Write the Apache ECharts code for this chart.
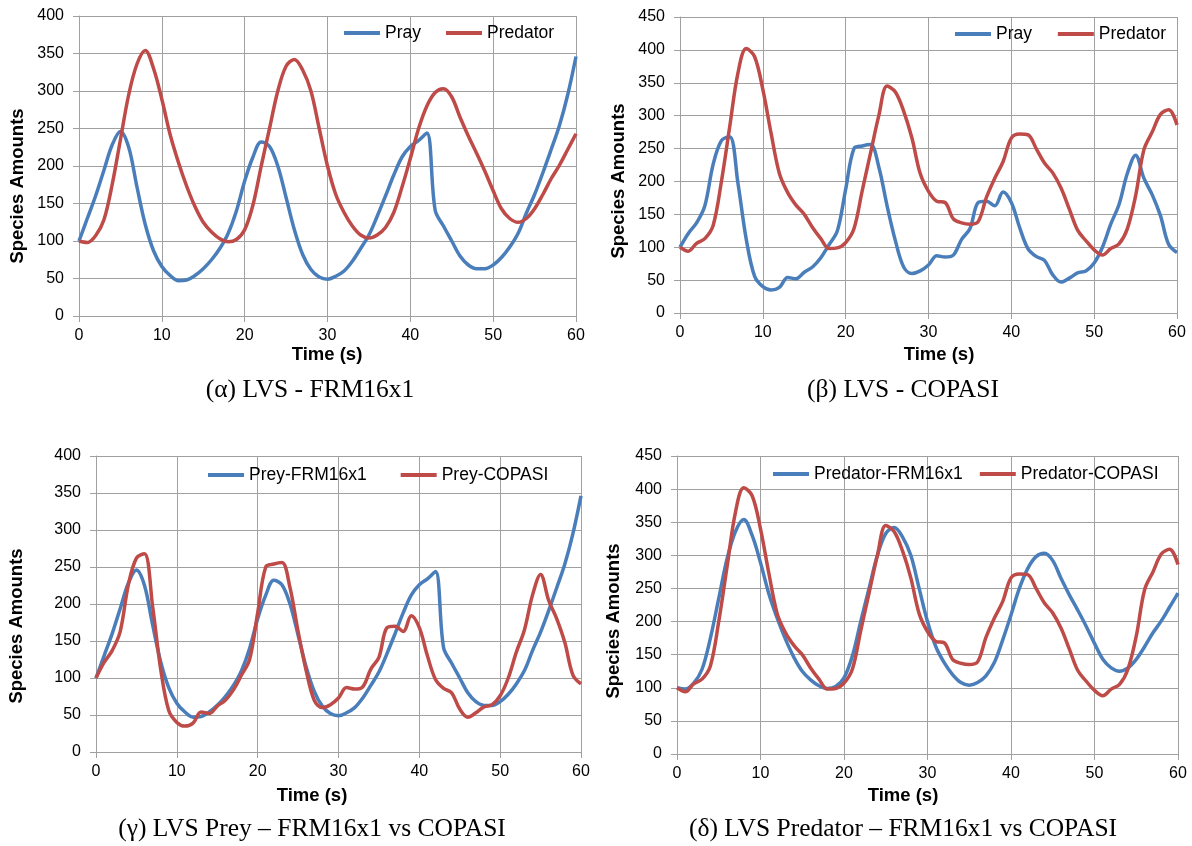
<!DOCTYPE html>
<html>
<head>
<meta charset="utf-8">
<title>Lotka-Volterra: FRM16x1 vs COPASI</title>
<script src="https://cdn.jsdelivr.net/npm/echarts@6/dist/echarts.min.js"></script>
<style>
  html, body { margin: 0; padding: 0; background: #ffffff; }
  #chart { width: 1192px; height: 846px; }
</style>
</head>
<body>
<div id="chart"></div>
<script>
// Simulation time, seconds
const time = [
  0, 1, 2, 3, 4, 5, 6, 7, 8, 9, 10, 11, 12, 13, 14, 15, 16, 17, 18, 19, 20,
  21, 22, 23, 24, 25, 26, 27, 28, 29, 30, 31, 32, 33, 34, 35, 36, 37, 38, 39, 40,
  41, 42, 43, 44, 45, 46, 47, 48, 49, 50, 51, 52, 53, 54, 55, 56, 57, 58, 59, 60
];

// Prey population, FRM16x1 run
const preyFRM = [
  100, 130, 160, 194, 228, 246, 225, 172, 122, 87, 66, 54, 47, 48, 54, 63, 75, 90, 110, 140, 180,
  212, 232, 226, 200, 158, 115, 82, 62, 52, 49, 53, 60, 73, 90, 108, 133, 160, 188, 212, 226,
  234, 244, 141, 120, 100, 80, 68, 63, 63, 68, 78, 92, 110, 137, 162, 191, 222, 254, 295, 346
];

// Predator population, FRM16x1 run
const predFRM = [
  100, 98, 107, 128, 175, 235, 295, 336, 354, 330, 289, 242, 205, 173, 146, 125, 112, 103, 99, 102, 115,
  148, 200, 250, 300, 333, 342, 328, 300, 250, 200, 162, 138, 120, 108, 104, 108, 118, 138, 172, 210,
  250, 280, 298, 303, 292, 265, 240, 217, 193, 167, 143, 130, 125, 130, 143, 162, 183, 201, 222, 243
];

// Prey population, COPASI run
const preyCOPASI = [
  100, 121, 137, 163, 226, 262, 268, 197, 112, 56, 40, 35, 39, 54, 52, 62, 70, 84, 104, 125, 188,
  250, 254, 256, 222, 163, 110, 70, 60, 64, 73, 87, 85, 88, 112, 128, 168, 170, 163, 184, 168,
  130, 98, 86, 80, 58, 47, 53, 61, 64, 76, 100, 135, 165, 212, 240, 205, 180, 148, 104, 92
];

// Predator population, COPASI run
const predCOPASI = [
  100, 94, 106, 113, 133, 200, 283, 365, 402, 390, 340, 273, 212, 183, 164, 150, 130, 113, 98, 99, 107,
  128, 186, 243, 300, 345, 336, 307, 266, 212, 185, 170, 168, 143, 137, 135, 139, 176, 205, 230, 266,
  272, 271, 250, 228, 213, 190, 158, 126, 110, 96, 88, 98, 105, 128, 178, 248, 275, 302, 309, 286
];

// Panel axis ranges
const yMaxTop = [400, 450];
const yMaxBottom = [400, 450];

const BLUE = '#4a7ebb';
const RED = '#be4b48';
const GRID_GREY = '#a0a0a0';
const SANS = 'Liberation Sans, Arial, sans-serif';
const SERIF = 'Liberation Serif, Times New Roman, serif';

function pairs(values) {
  return time.map((t, i) => [t, values[i]]);
}

// plot-area rectangles of the four panels
const panels = [
  { left: 79,  top: 16,  width: 497, height: 300, yMax: yMaxTop[0] },
  { left: 680, top: 17,  width: 497, height: 296, yMax: yMaxTop[1] },
  { left: 96,  top: 456, width: 485, height: 296, yMax: yMaxBottom[0] },
  { left: 677, top: 456, width: 501, height: 298, yMax: yMaxBottom[1] }
];

const grids = panels.map(p => ({ left: p.left, top: p.top, width: p.width, height: p.height }));

const xAxes = panels.map((p, i) => ({
  type: 'value', gridIndex: i, min: 0, max: 60, interval: 10,
  axisLine: { show: true, lineStyle: { color: GRID_GREY, width: 1 } },
  axisTick: { show: true, length: 6, inside: false, lineStyle: { color: GRID_GREY } },
  axisLabel: { color: '#000', fontFamily: SANS, fontSize: 16, margin: 12 },
  splitLine: { show: true, lineStyle: { color: GRID_GREY, width: 1 } }
}));

const yAxes = panels.map((p, i) => ({
  type: 'value', gridIndex: i, min: 0, max: p.yMax, interval: 50,
  axisLine: { show: true, lineStyle: { color: GRID_GREY, width: 1 } },
  axisTick: { show: true, length: 6, inside: false, lineStyle: { color: GRID_GREY } },
  axisLabel: { color: '#000', fontFamily: SANS, fontSize: 16, margin: 15 },
  splitLine: { show: true, lineStyle: { color: GRID_GREY, width: 1 } }
}));

function line(name, values, color, idx) {
  return {
    name: name, type: 'line', xAxisIndex: idx, yAxisIndex: idx,
    data: pairs(values), smooth: 0.35, symbol: 'none',
    lineStyle: { color: color, width: 3.5 }, itemStyle: { color: color },
    z: color === RED ? 3 : 2, animation: false
  };
}

const series = [
  line('Pray', preyFRM, BLUE, 0),
  line('Predator', predFRM, RED, 0),
  line('Pray ', preyCOPASI, BLUE, 1),
  line('Predator ', predCOPASI, RED, 1),
  line('Prey-FRM16x1', preyFRM, BLUE, 2),
  line('Prey-COPASI', preyCOPASI, RED, 2),
  line('Predator-FRM16x1', predFRM, BLUE, 3),
  line('Predator-COPASI', predCOPASI, RED, 3)
];

function legend(names, left, centerY, gap) {
  return {
    data: names.map(n => ({ name: n, icon: 'rect' })),
    left: left, top: centerY - 11, padding: 0,
    itemWidth: 36, itemHeight: 4, itemGap: gap,
    selectedMode: false,
    textStyle: { color: '#000', fontFamily: SANS, fontSize: 17.5, lineHeight: 22 }
  };
}

const legends = [
  legend(['Pray', 'Predator'], 344, 33, 25),
  legend(['Pray ', 'Predator '], 955, 34, 21),
  legend(['Prey-FRM16x1', 'Prey-COPASI'], 208, 475, 34),
  legend(['Predator-FRM16x1', 'Predator-COPASI'], 773, 474, 17)
];

function label(text, x, y, font, rotate) {
  return {
    type: 'text', x: x, y: y, rotation: rotate ? Math.PI / 2 : 0,
    style: { text: text, x: 0, y: 0, align: 'center', verticalAlign: 'middle', font: font, fill: '#000' },
    silent: true
  };
}

const TITLE_FONT = 'bold 18.5px ' + SANS;
const CAPTION_FONT = '25.5px ' + SERIF;

const graphics = [
  label('Species Amounts', 18, 186, TITLE_FONT, true),
  label('Species Amounts', 619, 181, TITLE_FONT, true),
  label('Species Amounts', 17, 626, TITLE_FONT, true),
  label('Species Amounts', 614, 621, TITLE_FONT, true),
  label('Time (s)', 327, 355, TITLE_FONT),
  label('Time (s)', 939, 355, TITLE_FONT),
  label('Time (s)', 312, 796, TITLE_FONT),
  label('Time (s)', 903, 796, TITLE_FONT),
  label('(\u03b1) LVS - FRM16x1', 310, 390, CAPTION_FONT),
  label('(\u03b2) LVS - COPASI', 903, 390, CAPTION_FONT),
  label('(\u03b3) LVS Prey \u2013 FRM16x1 vs COPASI', 312, 829, CAPTION_FONT),
  label('(\u03b4) LVS Predator \u2013 FRM16x1 vs COPASI', 903, 829, CAPTION_FONT)
];

const chart = echarts.init(document.getElementById('chart'), null, { renderer: 'canvas' });
chart.setOption({
  backgroundColor: '#ffffff',
  animation: false,
  grid: grids,
  xAxis: xAxes,
  yAxis: yAxes,
  legend: legends,
  series: series,
  graphic: graphics
});
</script>
</body>
</html>
